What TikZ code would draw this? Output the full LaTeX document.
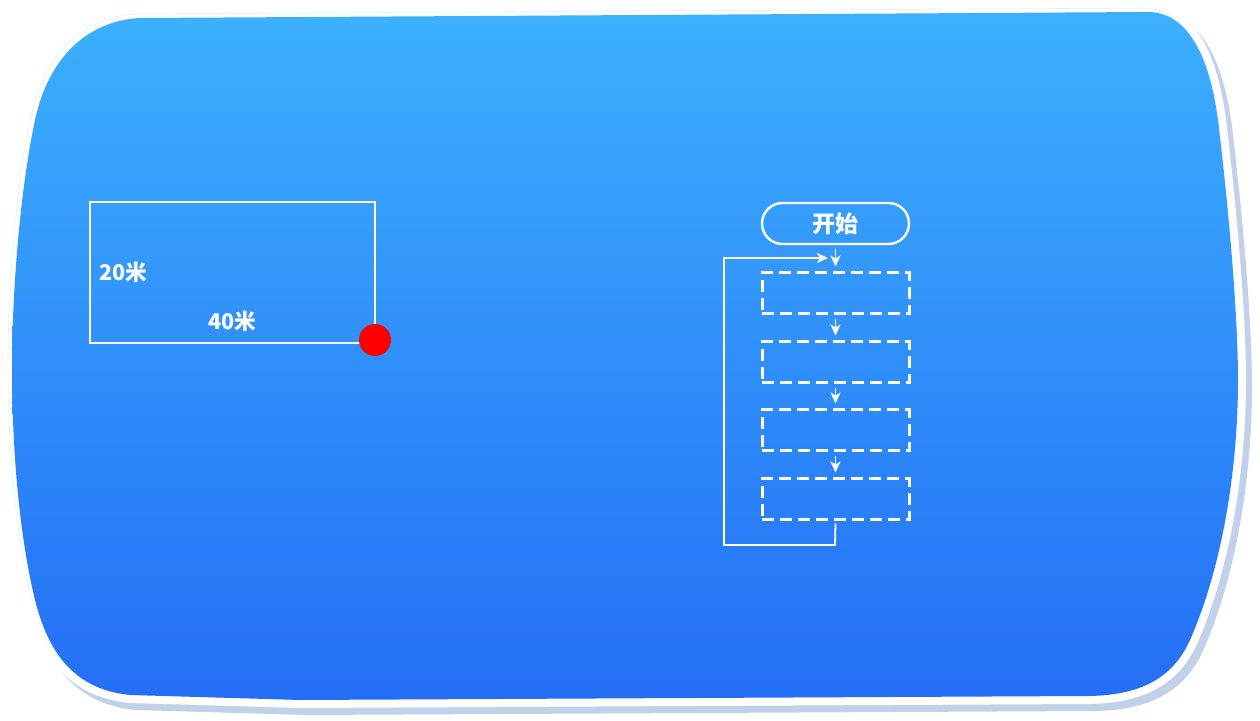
\documentclass[tikz,border=0pt]{standalone}
\usepackage{fontspec}
\newfontfamily\cjk{Noto Sans CJK SC}
\usetikzlibrary{arrows.meta,shapes.misc}
\definecolor{bgtop}{RGB}{60,176,253}
\definecolor{bgbot}{RGB}{36,110,245}
\definecolor{shadowc}{RGB}{194,209,234}
\tikzset{
  dbox/.style={draw=white,line width=1.5pt,dash pattern=on 6pt off 3pt,minimum width=73.5pt,minimum height=20.5pt,inner sep=0pt},
  startbox/.style={draw=white,line width=1.2pt,rounded rectangle,minimum width=73.5pt,minimum height=20.5pt,inner sep=0pt,font=\cjk\bfseries\fontsize{11.5}{13}\selectfont,text=white},
  lbl/.style={text=white,font=\cjk\bfseries\fontsize{10.8}{12}\selectfont,inner sep=0pt},
  arr/.style={draw=white,line width=0.7pt,-{Stealth[length=5.5pt,width=5pt,inset=1.5pt]}}
}
\begin{document}
\begin{tikzpicture}[x=0.5pt,y=-0.5pt]
\useasboundingbox (0,0) rectangle (1260,721);
\def\blobpath{(140,18) -- (1150,12) .. controls (1190,14) and (1210,60) .. (1218,120) .. controls (1230,220) and (1238,320) .. (1238,380) .. controls (1238,460) and (1225,560) .. (1190,640) .. controls (1170,685) and (1130,695) .. (1090,696) -- (300,700) -- (130,695) .. controls (80,690) and (50,660) .. (35,600) .. controls (18,530) and (12,440) .. (12,370) .. controls (12,280) and (22,180) .. (35,120) .. controls (50,50) and (95,20) .. (140,18) -- cycle}
% shadow
\begin{scope}[shift={(6,7)}]
\draw[shadowc,line width=8pt] \blobpath;
\end{scope}
% white border
\draw[white,line width=8pt] \blobpath;
\draw[cyan!15,line width=0.3pt,shift={(-4,-4)}] \blobpath;
% gradient fill
\shade[top color=bgtop,bottom color=bgbot] \blobpath;

% left diagram
\node[draw=white,line width=1pt,minimum width=142.5pt,minimum height=70.5pt,inner sep=0pt] (field) at (232.5,272.5) {};
\node[lbl,anchor=west] (w20) at (99,272) {20米};
\node[lbl] (w40) at (232,321) {40米};
\node[circle,fill=red,minimum size=16pt,inner sep=0pt] (dot) at (375,340) {};

% flowchart
\node[startbox] (start) at (835.5,223.5) {开始};
\node[dbox] (b1) at (835.5,293.5) {};
\node[dbox] (b2) at (835.5,362.5) {};
\node[dbox] (b3) at (835.5,430.5) {};
\node[dbox] (b4) at (835.5,499.5) {};
\draw[arr] ([yshift=-2pt]start.south) -- ([yshift=2.5pt]b1.north);
\draw[arr] ([yshift=-2pt]b1.south) -- ([yshift=2.5pt]b2.north);
\draw[arr] ([yshift=-2pt]b2.south) -- ([yshift=2.5pt]b3.north);
\draw[arr] ([yshift=-2pt]b3.south) -- ([yshift=2.5pt]b4.north);
\coordinate (loopend) at (828,258);
\draw[arr,line width=0.9pt] ([yshift=-1pt]b4.south) -- (835,545) -- (724,545) -- (724,258) -- (loopend);
\end{tikzpicture}
\end{document}
